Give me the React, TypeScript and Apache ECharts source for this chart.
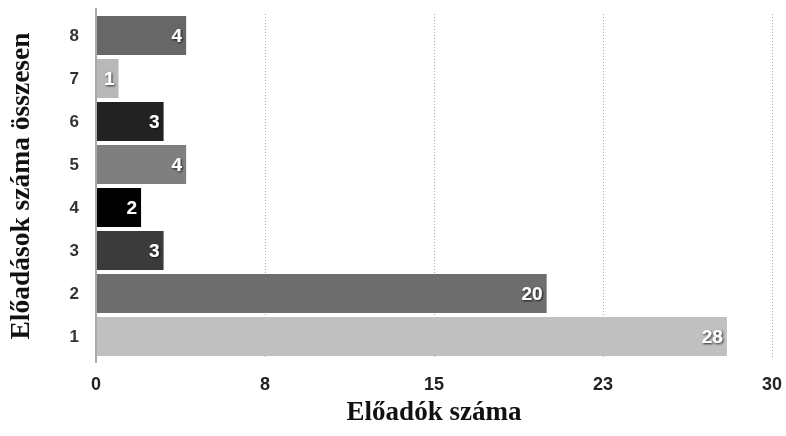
import React, { useEffect, useRef } from "react";
import * as echarts from "echarts";

const categories = ["1", "2", "3", "4", "5", "6", "7", "8"];
const values = [28, 20, 3, 2, 4, 3, 1, 4];
const barColors = ["#c0c0c0", "#6e6e6e", "#3b3b3b", "#000000", "#7f7f7f", "#222222", "#b8b8b8", "#676767"];

export default function App() {
  const ref = useRef<HTMLDivElement>(null);
  useEffect(() => {
    const chart = echarts.init(ref.current!, null, { renderer: "svg" });
    chart.setOption({
      animation: false,
      grid: { left: 96, right: 14, top: 14, bottom: 78, containLabel: false, outerBoundsMode: "none" },
      graphic: [
        {
          type: "line",
          shape: { x1: 96, y1: 8, x2: 96, y2: 363 },
          style: { stroke: "#aaaaaa", lineWidth: 2 },
          z: 10,
        },
      ],
      xAxis: {
        type: "value",
        min: 0,
        max: 30,
        interval: 7.5,
        axisLine: { show: false },
        axisTick: { show: false },
        splitLine: { show: true, lineStyle: { color: "#aaaaaa", type: [1, 2], width: 1 } },
        axisLabel: {
          color: "#222",
          fontFamily: "Liberation Sans, Arial, sans-serif",
          fontWeight: "bold",
          fontSize: 18,
          margin: 17,
          formatter: (v: number) => String(Math.round(v)),
        },
        name: "Előadók száma",
        nameLocation: "middle",
        nameGap: 27,
        nameTextStyle: {
          color: "#111",
          fontFamily: "Liberation Serif, Times New Roman, serif",
          fontWeight: "bold",
          fontSize: 27,
        },
      },
      yAxis: {
        type: "category",
        data: categories,
        axisLine: { show: false },
        axisTick: { show: false },
        axisLabel: {
          color: "#333",
          fontFamily: "Liberation Sans, Arial, sans-serif",
          fontWeight: "bold",
          fontSize: 17,
          margin: 17,
        },
        name: "Előadások száma összesen",
        nameLocation: "middle",
        nameGap: 63,
        nameRotate: 90,
        nameTextStyle: {
          color: "#111",
          fontFamily: "Liberation Serif, Times New Roman, serif",
          fontWeight: "bold",
          fontSize: 27.5,
        },
      },
      series: [
        {
          type: "bar",
          data: values.map((v, i) => ({ value: v, itemStyle: { color: barColors[i] } })),
          barCategoryGap: "9%",
          label: {
            show: true,
            position: "insideRight",
            distance: 4,
            color: "#fff",
            fontFamily: "Liberation Sans, Arial, sans-serif",
            fontWeight: "bold",
            fontSize: 19,
            textShadowColor: "rgba(0,0,0,0.8)",
            textShadowBlur: 2,
            textShadowOffsetX: 1,
            textShadowOffsetY: 1,
          },
        },
      ],
    });
    return () => chart.dispose();
  }, []);
  return <div ref={ref} style={{ position: "fixed", left: 0, top: 0, width: 786, height: 436 }} />;
}
